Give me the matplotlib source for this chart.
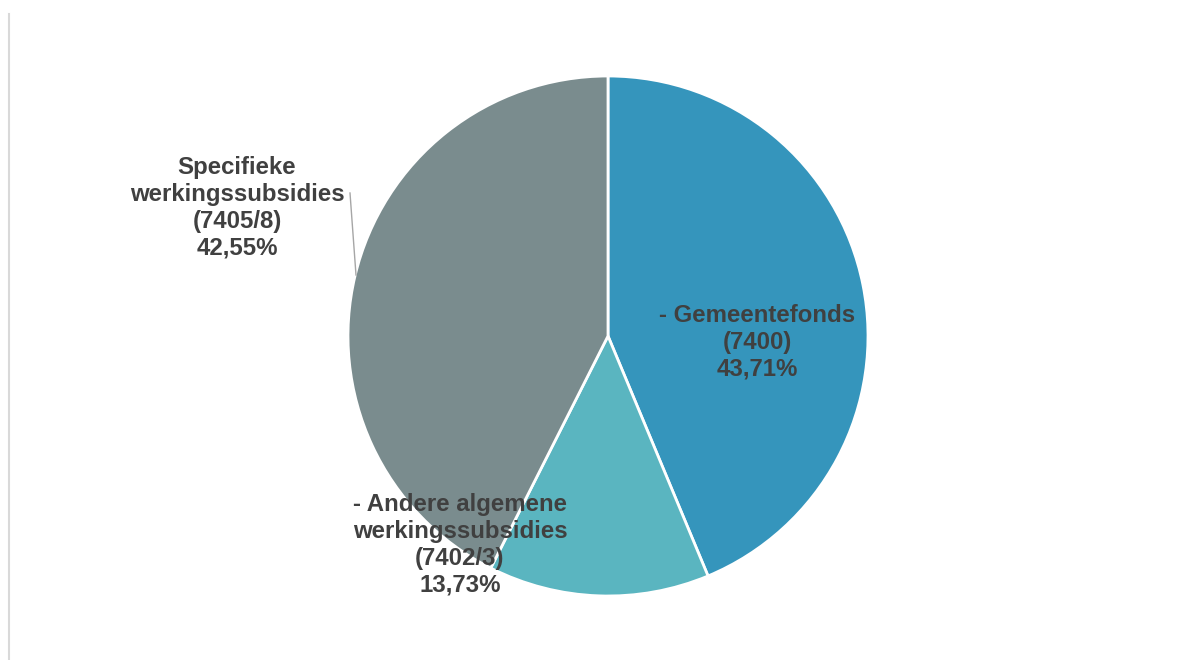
import matplotlib.pyplot as plt

plt.rcParams['font.family'] = ['Liberation Sans', 'DejaVu Sans']

# data
names = ['- Gemeentefonds\n(7400)', '- Andere algemene\nwerkingssubsidies\n(7402/3)',
         'Specifieke\nwerkingssubsidies\n(7405/8)']
shares = [43.71, 13.73, 42.55]
colors = ['#3595bc', '#5ab5c0', '#7a8c8e']
# label centres in pixels (x, y from top)
label_pos = [(757, 342), (460, 545), (237, 208)]

W, H = 1194, 660
fig = plt.figure(figsize=(W/100, H/100), dpi=100)
ax = fig.add_axes([0, 0, 1, 1])
ax.set_xlim(0, W)
ax.set_ylim(0, H)
ax.set_aspect('equal')
ax.axis('off')

ax.pie(shares, colors=colors, startangle=90, counterclock=False,
       center=(608, H - 336), radius=260,
       wedgeprops=dict(edgecolor='white', linewidth=2))
ax.set_xlim(0, W)
ax.set_ylim(0, H)

for name, val, (x, y) in zip(names, shares, label_pos):
    txt = name + '\n' + ('%.2f%%' % val).replace('.', ',')
    ax.text(x, H - y, txt, ha='center', va='center', fontsize=17.3,
            fontweight='bold', color='#404040', linespacing=1.22)

# leader line for the left label
ax.plot([350, 356], [H - 193, H - 275], color='#a6a6a6', lw=1)

# left border line
ax.plot([8.5, 8.5], [H - 14, 0], color='#d9d9d9', lw=1.5, clip_on=False)

fig.savefig('out.png', dpi=100)
